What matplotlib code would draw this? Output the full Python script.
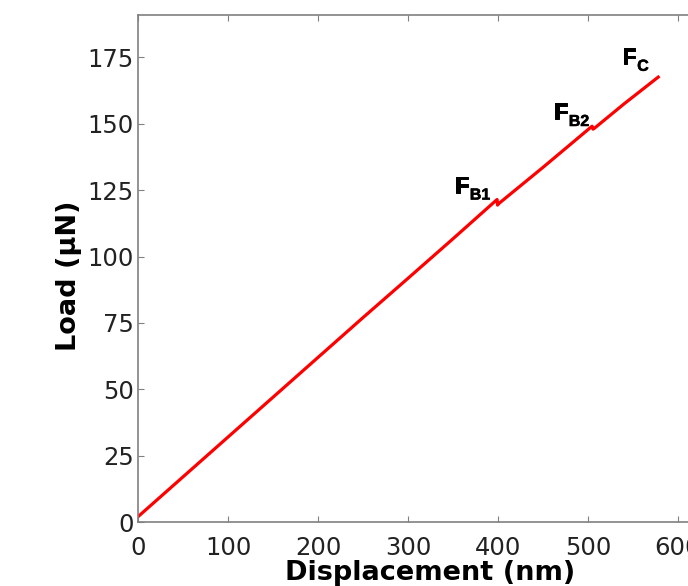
import matplotlib
matplotlib.use('Agg')
import matplotlib.pyplot as plt
import matplotlib.patheffects as pe

# load-displacement curve
displacement = [0, 50, 100, 150, 200, 250, 300, 350, 399, 399.5, 401, 450, 504.5, 505.5, 507, 540, 578]
load = [2.0, 17.0, 32.0, 47.0, 62.0, 77.0, 91.8, 106.7, 121.5, 119.4, 120.0, 133.6, 149.1, 148.0, 148.3, 157.5, 167.6]

labels = ['B1', 'B2', 'C']
label_x = [352, 462, 538]
label_y = [124.1, 151.8, 172.6]

fig = plt.figure(figsize=(6.88, 5.86), dpi=100)
ax = fig.add_axes([138 / 688, 64 / 586, 585 / 688, 507 / 586])

ax.plot(displacement, load, color='red', lw=2.3)

# F with a subscript, drawn as two bold texts (slight stroke to make them heavier)
for lab, lx, ly in zip(labels, label_x, label_y):
    ax.text(lx, ly, 'F', fontsize=16.5, fontweight='bold', family='Liberation Sans',
            ha='left', va='baseline',
            path_effects=[pe.withStroke(linewidth=0.7, foreground='black')])
    ax.annotate(lab, (lx, ly), xytext=(10.8, -5), textcoords='offset points',
                fontsize=11.5, fontweight='bold', family='Liberation Sans',
                ha='left', va='baseline',
                path_effects=[pe.withStroke(linewidth=0.4, foreground='black')])

ax.set_xlim(0, 650)
ax.set_ylim(0, 191)
ax.set_xticks(range(0, 601, 100))
ax.set_yticks(range(0, 176, 25))

for s in ax.spines.values():
    s.set_color('#808080')
    s.set_linewidth(1.2)
ax.tick_params(direction='in', top=True, right=True, length=4, color='#808080',
               labelsize=17.5, labelcolor='#222222')
ax.tick_params(axis='x', pad=10)
ax.tick_params(axis='y', pad=3)

ax.set_xlabel('Displacement (nm)', fontsize=19.5, fontweight='bold', labelpad=0)
ax.set_ylabel('Load (\u03bcN)', fontsize=19.5, fontweight='bold', labelpad=4)
ax.yaxis.set_label_coords(-0.096, 0.485)

fig.savefig('out.png', dpi=100)
